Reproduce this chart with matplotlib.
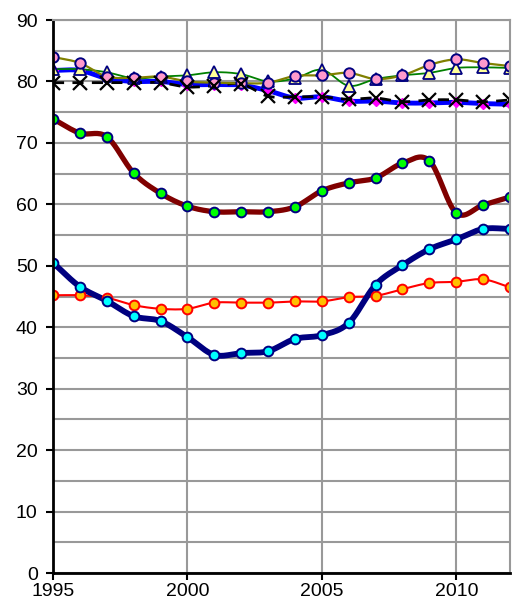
import numpy as np
import matplotlib
matplotlib.use("Agg")
import matplotlib.pyplot as plt

plt.rcParams['font.family'] = ['Liberation Sans', 'DejaVu Sans']

years = list(range(1995, 2013))

# big series
red_green = [73.9, 71.6, 71.0, 65.1, 61.8, 59.7, 58.8, 58.8, 58.8, 59.6,
             62.2, 63.5, 64.3, 66.7, 67.1, 58.6, 59.9, 61.2]
navy_cyan = [50.5, 46.6, 44.3, 41.8, 41.0, 38.4, 35.5, 35.8, 36.1, 38.1,
             38.7, 40.7, 46.9, 50.1, 52.7, 54.3, 56.0, 56.0]
red_orange = [45.2, 45.2, 44.8, 43.6, 43.0, 43.0, 44.0, 44.0, 44.0, 44.2,
              44.2, 44.9, 45.1, 46.2, 47.2, 47.4, 47.8, 46.5]

# top cluster
pink_olive = [84.0, 83.0, 80.8, 80.6, 80.8, 80.0, 79.8, 79.7, 79.8, 80.9,
              81.0, 81.4, 80.4, 81.0, 82.7, 83.6, 83.0, 82.5]
tri_green = [82.0, 82.0, 81.5, 80.5, 80.8, 81.0, 81.5, 81.2, 80.0, 80.5,
             81.9, 79.3, 80.4, 81.0, 81.4, 82.2, 82.3, 82.2]
diamond_blue = [81.8, 81.8, 80.5, 80.0, 80.0, 79.5, 79.5, 79.4, 78.5, 77.3,
                77.5, 76.8, 76.8, 76.5, 76.5, 76.6, 76.4, 76.3]
x_black = [79.8, 79.8, 79.8, 79.8, 79.8, 79.1, 79.3, 79.6, 77.6, 77.5,
           77.5, 77.1, 77.3, 76.7, 77.0, 77.0, 76.7, 77.0]


def smooth(xs, ys, n=20):
    # Catmull-Rom style curve through the points (like Excel smoothed lines)
    xs = np.asarray(xs, float)
    ys = np.asarray(ys, float)
    px = np.concatenate([[2 * xs[0] - xs[1]], xs, [2 * xs[-1] - xs[-2]]])
    py = np.concatenate([[2 * ys[0] - ys[1]], ys, [2 * ys[-1] - ys[-2]]])
    ox, oy = [], []
    t = np.linspace(0, 1, n, endpoint=False)
    for i in range(1, len(px) - 2):
        for p, o in ((px, ox), (py, oy)):
            p0, p1, p2, p3 = p[i - 1], p[i], p[i + 1], p[i + 2]
            o.extend(0.5 * ((2 * p1) + (-p0 + p2) * t
                            + (2 * p0 - 5 * p1 + 4 * p2 - p3) * t ** 2
                            + (-p0 + 3 * p1 - 3 * p2 + p3) * t ** 3))
    ox.append(xs[-1])
    oy.append(ys[-1])
    return np.array(ox), np.array(oy)


fig = plt.figure(figsize=(5.17, 6.07), dpi=100)
ax = fig.add_axes([0.1025, 0.056, 0.884, 0.911])

ax.set_xlim(1995, 2012)
ax.set_ylim(0, 90)
ax.set_yticks(range(0, 91, 10))
ax.set_yticks(range(0, 91, 5), minor=True)
ax.set_xticks([1995, 2000, 2005, 2010])
ax.grid(True, which='both', axis='y', color='#999999', lw=1.5)
ax.grid(True, which='major', axis='x', color='#999999', lw=1.5)
ax.set_axisbelow(True)
ax.tick_params(axis='y', which='minor', length=0)
ax.tick_params(axis='both', which='major', direction='out', length=5, width=1.5,
               labelsize=14, color='black')
ax.tick_params(axis='y', pad=6)
ax.tick_params(axis='x', pad=2)
for s in ['top', 'right']:
    ax.spines[s].set_color('#999999')
    ax.spines[s].set_linewidth(1.5)
for s in ['left', 'bottom']:
    ax.spines[s].set_linewidth(2)

# top cluster
sx, sy = smooth(years, diamond_blue)
ax.plot(sx, sy, color='#0000FF', lw=3.5, zorder=3)
ax.plot(years, diamond_blue, ls='none', marker='D', ms=5, color='#FF00FF',
        zorder=3)
sx, sy = smooth(years, x_black)
ax.plot(sx, sy, color='black', lw=2, ls=(0, (4, 3)), zorder=4)
ax.plot(years, x_black, ls='none', marker='x', ms=10, mew=1.6, color='black',
        zorder=6)
sx, sy = smooth(years, tri_green)
ax.plot(sx, sy, color='#008000', lw=1.3, zorder=4)
ax.plot(years, tri_green, ls='none', marker='^', ms=9, mfc='#FFFF99',
        mec='#000080', mew=1.3, zorder=5)
sx, sy = smooth(years, pink_olive)
ax.plot(sx, sy, color='#808000', lw=1.6, zorder=4)
ax.plot(years, pink_olive, ls='none', marker='o', ms=7.5, mfc='#FF99CC',
        mec='#000080', mew=1.4, zorder=5)

# lower series
sx, sy = smooth(years, red_green)
ax.plot(sx, sy, color='#800000', lw=3.8, zorder=3)
ax.plot(years, red_green, ls='none', marker='o', ms=7, mfc='#00FF00',
        mec='#000080', mew=1.4, zorder=5)

sx, sy = smooth(years, red_orange)
ax.plot(sx, sy, color='#FF0000', lw=1.5, zorder=3)
ax.plot(years, red_orange, ls='none', marker='o', ms=7, mfc='#FFC000',
        mec='#FF0000', mew=1.4, zorder=5)

sx, sy = smooth(years, navy_cyan)
ax.plot(sx, sy, color='#000080', lw=4.2, zorder=3)
ax.plot(years, navy_cyan, ls='none', marker='o', ms=7, mfc='#00FFFF',
        mec='#000080', mew=1.4, zorder=5)

for sp in ax.spines.values():
    sp.set_zorder(7)

fig.savefig("out.png", dpi=100)
